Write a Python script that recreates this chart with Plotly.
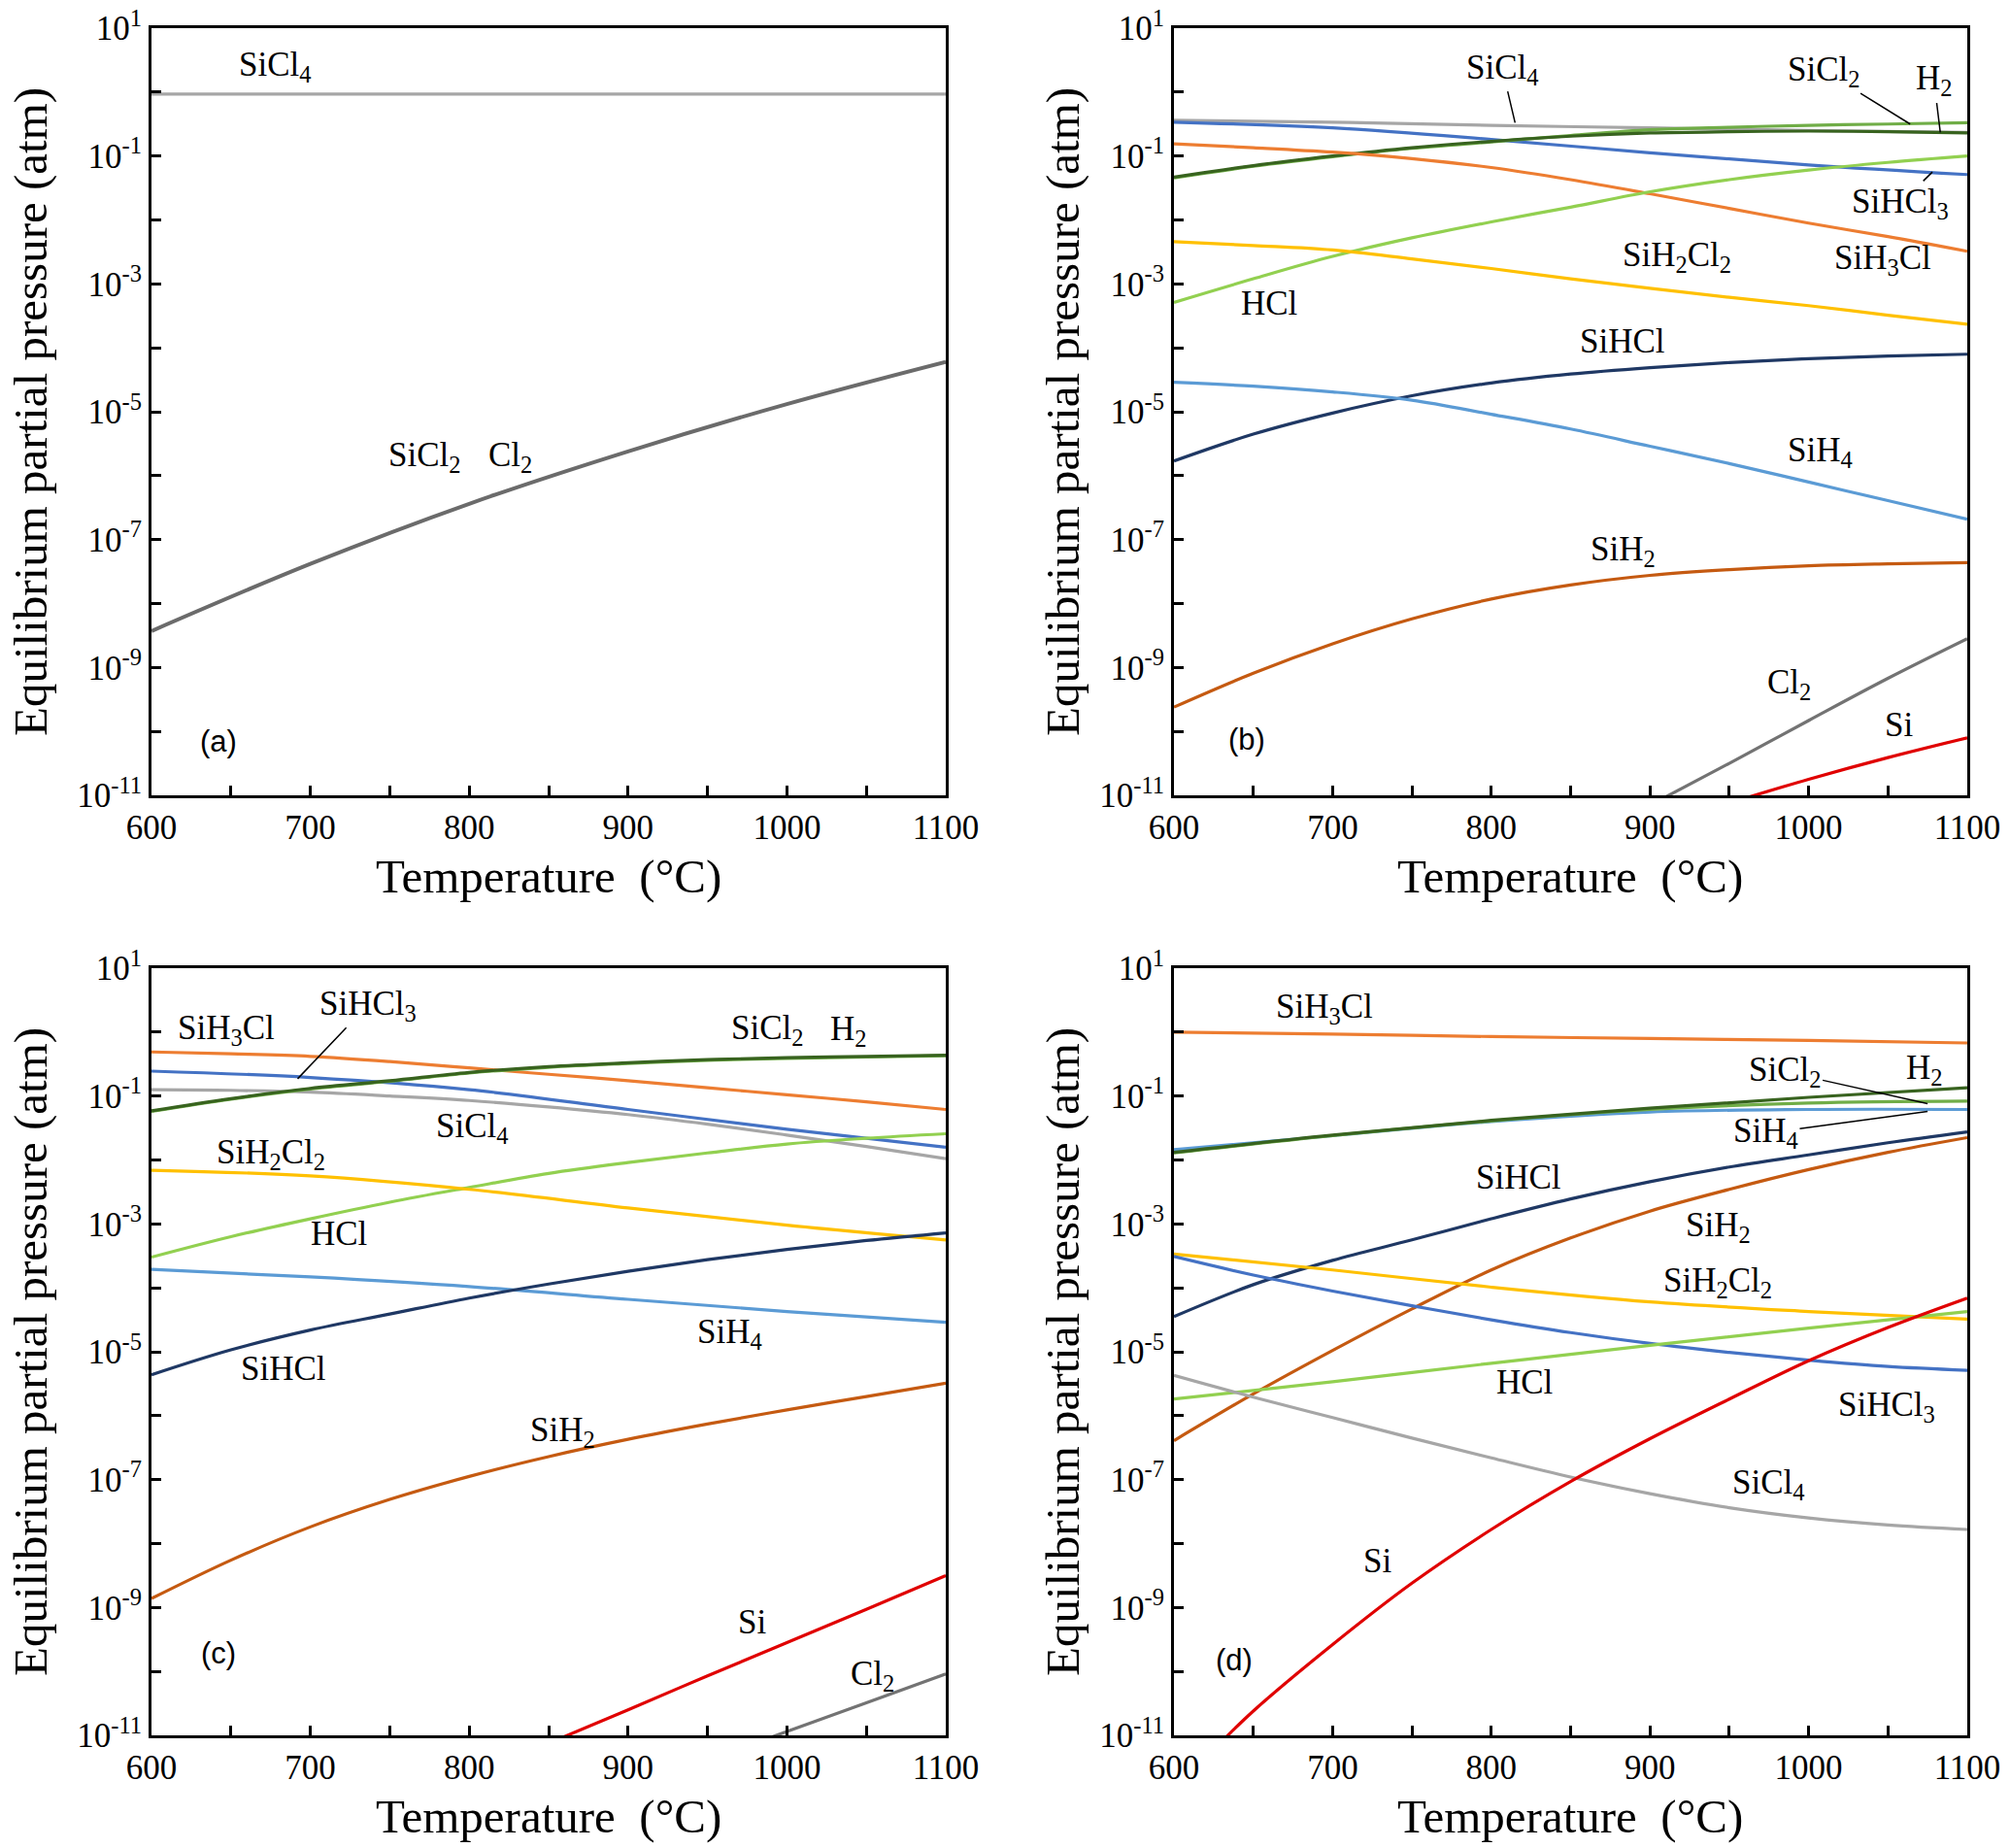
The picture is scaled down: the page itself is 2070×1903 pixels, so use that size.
import numpy as np
import plotly.graph_objects as go

T = [600, 700, 800, 900, 1000, 1100]
T50 = [600, 650, 700, 750, 800, 850, 900, 950, 1000, 1050, 1100]

# all pressures below are log10(p / atm)
# (a)
a_SiCl4 = [-0.03, -0.03, -0.03, -0.03, -0.03, -0.03]
a_SiCl2 = [-8.43, -7.38, -6.44, -5.62, -4.88, -4.22]

# (b)
b_SiCl4 = [-0.44, -0.47, -0.52, -0.56, -0.60, -0.63]
b_SiHCl3 = [-0.47, -0.56, -0.74, -0.95, -1.14, -1.29]
b_SiCl2 = [-1.34, -1.16, -1.01, -0.88, -0.78, -0.68, -0.59, -0.55, -0.52, -0.50, -0.48]
b_H2 = [-1.33, -1.15, -1.00, -0.87, -0.77, -0.69, -0.64, -0.62, -0.61, -0.62, -0.64]
b_SiH3Cl = [-0.81, -0.87, -0.94, -1.04, -1.18, -1.37, -1.59, -1.82, -2.05, -2.26, -2.49]
b_HCl = [-3.29, -2.92, -2.57, -2.28, -2.03, -1.80, -1.56, -1.37, -1.22, -1.10, -1.00]
b_SiH2Cl2 = [-2.34, -2.40, -2.47, -2.61, -2.76, -2.92, -3.07, -3.21, -3.34, -3.49, -3.63]
b_SiHCl = [-5.77, -5.35, -5.02, -4.75, -4.55, -4.41, -4.31, -4.23, -4.17, -4.13, -4.10]
b_SiH4 = [-4.54, -4.60, -4.69, -4.82, -5.04, -5.27, -5.54, -5.81, -6.10, -6.39, -6.68]
b_SiH2 = [-9.62, -9.09, -8.63, -8.24, -7.93, -7.71, -7.56, -7.47, -7.41, -7.38, -7.36]
b_Cl2_T = [908, 950, 1000, 1050, 1100]
b_Cl2 = [-11.05, -10.50, -9.83, -9.17, -8.55]
b_Si_T = [962, 1000, 1050, 1100]
b_Si = [-11.03, -10.75, -10.41, -10.10]

# (c)
c_SiH3Cl = [-0.31, -0.34, -0.38, -0.46, -0.56, -0.66, -0.76, -0.87, -0.98, -1.09, -1.21]
c_SiHCl3 = [-0.61, -0.71, -0.90, -1.21, -1.52, -1.80]
c_SiCl4 = [-0.90, -0.91, -0.94, -1.00, -1.07, -1.17, -1.29, -1.44, -1.61, -1.79, -1.98]
c_SiCl2 = [-1.24, -1.05, -0.89, -0.77, -0.64, -0.55, -0.49, -0.44, -0.41, -0.39, -0.37]
c_H2 = [-1.23, -1.04, -0.88, -0.76, -0.63, -0.54, -0.48, -0.43, -0.40, -0.38, -0.36]
c_HCl = [-3.52, -3.20, -2.92, -2.66, -2.43, -2.21, -2.04, -1.89, -1.75, -1.66, -1.59]
c_SiH2Cl2 = [-2.16, -2.25, -2.46, -2.75, -3.02, -3.25]
c_SiH4 = [-3.71, -3.83, -3.98, -4.18, -4.37, -4.54]
c_SiHCl = [-5.36, -4.97, -4.66, -4.41, -4.16, -3.94, -3.74, -3.56, -3.40, -3.26, -3.14]
c_SiH2 = [-8.86, -8.26, -7.74, -7.31, -6.95, -6.64, -6.37, -6.13, -5.91, -5.70, -5.49]
c_Si_T = [859, 900, 950, 1000, 1050, 1100]
c_Si = [-11.03, -10.60, -10.07, -9.55, -9.03, -8.50]
c_Cl2_T = [990, 1050, 1100]
c_Cl2 = [-11.03, -10.49, -10.04]

# (d)
d_SiH3Cl = [0.00, -0.03, -0.07, -0.10, -0.13, -0.17]
d_SiH4 = [-1.84, -1.62, -1.40, -1.25, -1.21, -1.21]
d_SiCl2 = [-1.89, -1.62, -1.39, -1.21, -1.11, -1.08]
d_H2 = [-1.88, -1.61, -1.38, -1.19, -1.02, -0.87]
d_SiHCl = [-4.45, -3.95, -3.57, -3.25, -2.92, -2.61, -2.34, -2.11, -1.92, -1.73, -1.56]
d_SiH2 = [-6.39, -5.66, -4.98, -4.33, -3.72, -3.22, -2.80, -2.46, -2.15, -1.88, -1.65]
d_SiH2Cl2 = [-3.47, -3.72, -3.99, -4.22, -4.37, -4.49]
d_SiHCl3 = [-3.51, -3.80, -4.05, -4.28, -4.50, -4.70, -4.87, -5.01, -5.13, -5.23, -5.29]
d_HCl = [-5.74, -5.47, -5.18, -4.90, -4.63, -4.37]
d_SiCl4 = [-5.37, -5.71, -6.03, -6.35, -6.66, -6.96, -7.22, -7.44, -7.60, -7.71, -7.78]
d_Si_T = [630, 650, 700, 750, 800, 850, 900, 950, 1000, 1050, 1100]
d_Si = [-11.10, -10.62, -9.58, -8.62, -7.78, -7.03, -6.36, -5.74, -5.14, -4.62, -4.16]

# colours
col = {
    "SiCl4": "#a6a6a6", "SiCl2a": "#6b6b6b", "Cl2": "#737373",
    "SiHCl3": "#4472c4", "SiH3Cl": "#ed7d31", "SiH2Cl2": "#ffc000",
    "HCl": "#92d050", "SiHCl": "#1f3864", "SiH4": "#5b9bd5",
    "SiH2": "#c55a11", "Si": "#e00000", "H2": "#38631f", "SiCl2": "#70ad47",
}

serif = "Liberation Serif"

fig = go.Figure()


def add_line(panel, x, logp, c, w=3.2):
    fig.add_trace(go.Scatter(
        x=x, y=np.power(10.0, logp), mode="lines",
        line=dict(color=col[c], width=w, shape="spline", smoothing=1.0),
        xaxis="x" if panel == 1 else "x%d" % panel,
        yaxis="y" if panel == 1 else "y%d" % panel,
        showlegend=False, hoverinfo="skip"))


# (a)
add_line(1, T, a_SiCl4, "SiCl4")
add_line(1, T, a_SiCl2, "SiCl2a", 4)

# (b)
add_line(2, T, b_SiCl4, "SiCl4")
add_line(2, T, b_SiHCl3, "SiHCl3")
add_line(2, T50, b_SiCl2, "SiCl2")
add_line(2, T50, b_H2, "H2")
add_line(2, T50, b_SiH3Cl, "SiH3Cl")
add_line(2, T50, b_HCl, "HCl")
add_line(2, T50, b_SiH2Cl2, "SiH2Cl2")
add_line(2, T50, b_SiHCl, "SiHCl")
add_line(2, T50, b_SiH4, "SiH4")
add_line(2, T50, b_SiH2, "SiH2")
add_line(2, b_Cl2_T, b_Cl2, "Cl2")
add_line(2, b_Si_T, b_Si, "Si")

# (c)
add_line(3, T50, c_SiCl4, "SiCl4")
add_line(3, T, c_SiHCl3, "SiHCl3")
add_line(3, T50, c_SiH3Cl, "SiH3Cl")
add_line(3, T50, c_SiCl2, "SiCl2")
add_line(3, T50, c_H2, "H2")
add_line(3, T50, c_HCl, "HCl")
add_line(3, T, c_SiH2Cl2, "SiH2Cl2")
add_line(3, T, c_SiH4, "SiH4")
add_line(3, T50, c_SiHCl, "SiHCl")
add_line(3, T50, c_SiH2, "SiH2")
add_line(3, c_Si_T, c_Si, "Si")
add_line(3, c_Cl2_T, c_Cl2, "Cl2")

# (d)
add_line(4, T, d_SiH3Cl, "SiH3Cl")
add_line(4, T, d_SiH4, "SiH4")
add_line(4, T, d_SiCl2, "SiCl2")
add_line(4, T, d_H2, "H2")
add_line(4, T50, d_SiHCl, "SiHCl")
add_line(4, T50, d_SiH2, "SiH2")
add_line(4, T, d_SiH2Cl2, "SiH2Cl2")
add_line(4, T50, d_SiHCl3, "SiHCl3")
add_line(4, T, d_HCl, "HCl")
add_line(4, T50, d_SiCl4, "SiCl4")
add_line(4, d_Si_T, d_Si, "Si")

# axes
W, H = 2070, 1903
x_left = [156 / W, 974 / W]
x_right = [1209 / W, 2026 / W]
y_top = [1 - 819 / H, 1 - 29 / H]
y_bot = [1 - 1787 / H, 1 - 997 / H]

xt = list(range(600, 1101, 50))
xt_text = [str(v) if v % 100 == 0 else "" for v in xt]
yt = [10.0 ** k for k in range(-11, 2)]
yt_text = ["10<sup>%d</sup>" % k if k % 2 else "" for k in range(-11, 2)]

axis_common = dict(showline=True, linecolor="black", linewidth=3, mirror=True,
                   ticks="inside", ticklen=10, tickwidth=2.5, tickcolor="black",
                   showgrid=False, zeroline=False, automargin=False,
                   ticklabeloverflow="allow",
                   tickfont=dict(family=serif, size=35, color="black"))

layout_axes = {}
doms = [(x_left, y_top), (x_right, y_top), (x_left, y_bot), (x_right, y_bot)]
for i, (xd, yd) in enumerate(doms, start=1):
    sx = "" if i == 1 else str(i)
    layout_axes["xaxis" + sx] = dict(domain=xd, anchor="y" + sx, range=[600, 1100],
                                     tickvals=xt, ticktext=xt_text, **axis_common)
    layout_axes["yaxis" + sx] = dict(domain=yd, anchor="x" + sx, type="log",
                                     range=[-11, 1], tickvals=yt, ticktext=yt_text,
                                     **axis_common)

fig.update_layout(width=W, height=H, margin=dict(l=0, r=0, t=0, b=0, pad=0),
                  autosize=False, plot_bgcolor="white", paper_bgcolor="white",
                  **layout_axes)

annotations = []


def label(panel, x, y, text, tip=None, size=35, family=serif):
    sx = "" if panel == 1 else str(panel)
    a = dict(x=x, y=y, xref="x" + sx, yref="y" + sx, text=text, showarrow=False,
             xanchor="center", yanchor="middle",
             font=dict(family=family, size=size, color="black"))
    if tip is not None:
        a.update(x=tip[0], y=tip[1], ax=x, ay=y, axref="x" + sx, ayref="y" + sx,
                 showarrow=True, arrowhead=0, arrowwidth=1.5, arrowcolor="black",
                 standoff=0, startstandoff=0)
    annotations.append(a)


# (a)
label(1, 678, 0.40, "SiCl<sub>4</sub>")
label(1, 772, -5.70, "SiCl<sub>2</sub>")
label(1, 826, -5.70, "Cl<sub>2</sub>")
label(1, 642, -10.16, "(a)", size=31, family="Liberation Sans")

# (b)
label(2, 807, 0.36, "SiCl<sub>4</sub>", tip=(815, -0.48))
label(2, 1010, 0.33, "SiCl<sub>2</sub>", tip=(1064, -0.50))
label(2, 1079, 0.18, "H<sub>2</sub>", tip=(1083, -0.63))
label(2, 1058, -1.74, "SiHCl<sub>3</sub>", tip=(1078, -1.25))
label(2, 1047, -2.62, "SiH<sub>3</sub>Cl")
label(2, 917, -2.58, "SiH<sub>2</sub>Cl<sub>2</sub>")
label(2, 660, -3.31, "HCl")
label(2, 883, -3.90, "SiHCl")
label(2, 1007, -5.63, "SiH<sub>4</sub>")
label(2, 883, -7.18, "SiH<sub>2</sub>")
label(2, 988, -9.26, "Cl<sub>2</sub>")
label(2, 1057, -9.90, "Si")
label(2, 646, -10.13, "(b)", size=31, family="Liberation Sans")

# (c)
label(3, 647, 0.04, "SiH<sub>3</sub>Cl")
label(3, 736, 0.42, "SiHCl<sub>3</sub>", tip=(692, -0.73))
label(3, 988, 0.04, "SiCl<sub>2</sub>")
label(3, 1039, 0.02, "H<sub>2</sub>")
label(3, 802, -1.50, "SiCl<sub>4</sub>")
label(3, 675, -1.91, "SiH<sub>2</sub>Cl<sub>2</sub>")
label(3, 718, -3.15, "HCl")
label(3, 964, -4.72, "SiH<sub>4</sub>")
label(3, 683, -5.27, "SiHCl")
label(3, 859, -6.25, "SiH<sub>2</sub>")
label(3, 978, -9.23, "Si")
label(3, 1054, -10.07, "Cl<sub>2</sub>")
label(3, 642, -9.71, "(c)", size=31, family="Liberation Sans")

# (d)
label(4, 695, 0.37, "SiH<sub>3</sub>Cl")
label(4, 985, -0.62, "SiCl<sub>2</sub>", tip=(1075, -1.12))
label(4, 1073, -0.59, "H<sub>2</sub>")
label(4, 973, -1.58, "SiH<sub>4</sub>", tip=(1075, -1.24))
label(4, 817, -2.27, "SiHCl")
label(4, 943, -3.05, "SiH<sub>2</sub>")
label(4, 943, -3.91, "SiH<sub>2</sub>Cl<sub>2</sub>")
label(4, 821, -5.48, "HCl")
label(4, 1049, -5.86, "SiHCl<sub>3</sub>")
label(4, 975, -7.08, "SiCl<sub>4</sub>")
label(4, 728, -8.27, "Si")
label(4, 638, -9.83, "(d)", size=31, family="Liberation Sans")

# axis titles
ytitle = "Equilibrium partial pressure (atm)"
xtitle = "Temperature  (°C)"
for xd, yd in doms:
    annotations.append(dict(x=(31 if xd is x_left else 1094) / W,
                            y=(yd[0] + yd[1]) / 2, xref="paper", yref="paper",
                            xanchor="center", yanchor="middle",
                            text=ytitle, textangle=-90, showarrow=False,
                            font=dict(family=serif, size=49, color="black")))
    annotations.append(dict(x=(xd[0] + xd[1]) / 2, y=yd[0] - 84 / H,
                            xref="paper", yref="paper", text=xtitle,
                            xanchor="center", yanchor="middle", showarrow=False,
                            font=dict(family=serif, size=49, color="black")))

fig.update_layout(annotations=annotations)

# drop the page's default body margin so the figure sits at the window corner
fig.write_html("out.html", config={"displayModeBar": False},
               post_script="document.body.style.margin='0';"
                           "document.body.style.overflow='hidden';")
